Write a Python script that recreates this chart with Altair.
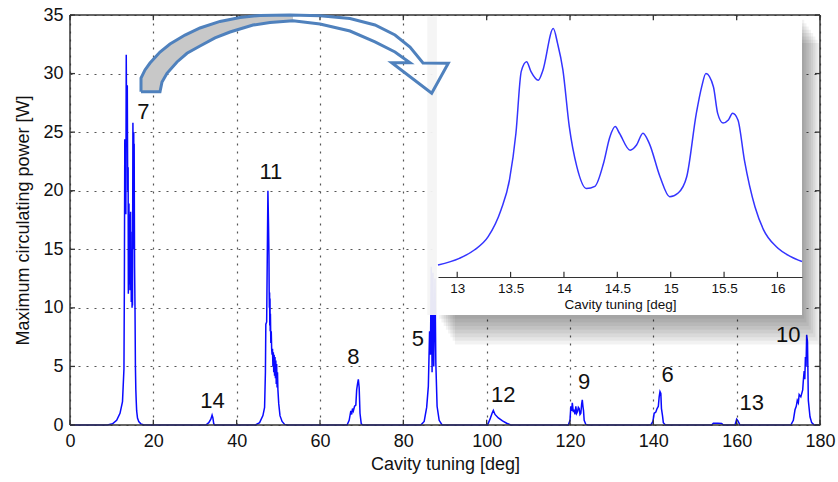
import altair as alt
import pandas as pd

FONT = "Liberation Sans"

# ---------------- data ----------------
x_ticks_main = list(range(0, 181, 20))
y_ticks_main = list(range(0, 36, 5))
inset_ticks = [13, 13.5, 14, 14.5, 15, 15.5, 16]

baseline = [(0, 0), (180, 0)]
peak_7 = [(9.0, 0), (10.2, 0.1), (11.2, 0.4), (12.0, 1.0), (12.6, 2.0), (12.95, 4.8),
          (13.05, 12.0), (13.15, 24.4), (13.3, 24.0), (13.4, 18.0), (13.5, 31.6), (13.6, 25.0),
          (13.75, 29.0), (13.85, 20.0), (13.95, 22.0), (14.0, 11.2), (14.05, 17.0), (14.1, 12.0),
          (14.15, 18.9), (14.2, 13.0), (14.25, 17.5), (14.3, 12.0), (14.35, 18.0), (14.4, 11.5),
          (14.45, 16.0), (14.5, 12.5), (14.55, 18.2), (14.6, 13.0), (14.65, 16.5), (14.7, 10.5),
          (14.75, 15.0), (14.8, 11.0), (14.85, 14.0), (14.9, 10.0), (14.95, 12.0), (15.0, 10.2),
          (15.05, 18.0), (15.1, 25.8), (15.2, 20.0), (15.3, 25.0), (15.35, 15.0), (15.4, 24.0),
          (15.45, 18.0), (15.5, 13.5), (15.6, 10.0), (15.7, 5.0), (15.8, 3.0), (15.9, 2.0),
          (16.0, 1.2), (16.2, 0.6), (16.5, 0.3), (17.0, 0.1), (17.6, 0.02), (18.5, 0)]
peak_14 = [(32.6, 0), (33.3, 0.2), (33.8, 0.5), (34.1, 0.85), (34.3, 0.6), (34.5, 0.1), (34.8, 0)]
peak_11 = [(44.5, 0), (45.5, 0.2), (46.3, 0.8), (46.7, 1.5), (46.9, 4.5), (47.0, 8.6), (47.2, 8.8),
           (47.5, 20.0), (47.65, 17.0), (47.75, 14.5), (47.8, 11.5), (47.85, 10.0), (47.9, 11.3),
           (47.95, 8.5), (48.0, 10.8), (48.05, 8.0), (48.1, 9.5), (48.2, 7.0), (48.3, 8.0),
           (48.4, 6.5), (48.5, 6.0), (48.6, 6.5), (48.7, 5.0), (48.8, 6.2), (48.9, 4.5),
           (49.0, 6.0), (49.1, 4.2), (49.2, 5.8), (49.3, 4.0), (49.4, 5.5), (49.5, 3.5),
           (49.6, 5.2), (49.7, 3.2), (49.8, 4.5), (49.9, 3.0), (50.1, 1.8), (50.4, 0.8),
           (50.9, 0.3), (51.5, 0.05), (52.3, 0)]
peak_8 = [(66.5, 0), (67.0, 0.4), (67.4, 1.2), (67.6, 0.9), (67.8, 1.4), (68.0, 1.2), (68.3, 1.6),
          (68.6, 1.7), (68.8, 3.0), (69.0, 3.5), (69.2, 3.9), (69.4, 3.2), (69.6, 1.0),
          (69.9, 0.1), (70.3, 0)]
peak_5 = [(84.2, 0), (85.0, 0.3), (85.6, 1.5), (86.0, 3.3), (86.3, 8.0), (86.5, 6.0), (86.7, 13.5),
          (86.9, 4.5), (87.1, 13.0), (87.3, 5.0), (87.6, 12.5), (87.8, 5.3), (88.1, 1.6),
          (88.6, 0.4), (89.3, 0)]
peak_12 = [(100.2, 0), (100.8, 0.5), (101.3, 1.0), (101.6, 1.25), (102.0, 0.9), (102.8, 0.6),
           (103.8, 0.35), (104.8, 0.15), (105.8, 0)]
peak_9 = [(119.6, 0), (120.0, 0.4), (120.2, 1.6), (120.4, 1.2), (120.55, 1.9), (120.8, 1.1),
          (120.96, 1.3), (121.2, 0.9), (121.4, 1.6), (121.6, 1.0), (121.8, 1.15), (122.0, 1.5),
          (122.2, 1.4), (122.4, 0.9), (122.6, 1.0), (122.8, 1.8), (122.95, 2.15), (123.1, 1.6),
          (123.25, 1.2), (123.4, 0.4), (123.8, 0.05), (124.3, 0)]
peak_6 = [(139.4, 0), (139.9, 0.3), (140.2, 1.0), (140.6, 1.1), (140.9, 1.4), (141.2, 1.6),
          (141.4, 2.4), (141.6, 2.85), (141.8, 2.7), (141.95, 1.4), (142.2, 0.8), (142.4, 0.2),
          (142.9, 0)]
bump_155 = [(154.0, 0), (154.4, 0.15), (155.5, 0.15), (156.4, 0.12), (156.8, 0)]
peak_13 = [(159.6, 0), (160.0, 0.5), (160.3, 0.35), (160.8, 0)]
peak_10 = [(173.0, 0), (173.6, 0.4), (174.0, 1.3), (174.3, 1.6), (174.55, 2.1), (174.8, 1.9),
           (175.0, 2.6), (175.4, 2.4), (175.85, 3.0), (176.0, 3.8), (176.2, 4.6), (176.35, 3.9),
           (176.5, 5.8), (176.65, 5.0), (176.8, 7.7), (177.0, 7.1), (177.2, 2.1), (177.6, 0.7),
           (178.0, 0.2), (178.6, 0)]

peak_labels = ["7", "14", "11", "8", "5", "12", "9", "6", "13", "10"]
label_x = [17.6, 34.2, 48.2, 68.0, 83.5, 104.0, 123.4, 143.4, 163.6, 172.4]
label_y = [26.75, 2.07, 21.6, 5.83, 7.34, 2.56, 3.7, 4.27, 1.85, 7.68]

# inset (zoom on mode 7)
inset_curve = [(12.82, 1.63), (13.02, 2.53), (13.16, 3.66), (13.29, 5.47), (13.41, 9.09),
               (13.49, 13.2), (13.55, 19.5), (13.6, 27.9), (13.65, 29.2), (13.69, 27.9),
               (13.76, 26.7), (13.8, 27.9), (13.9, 33.7), (13.94, 31.7), (13.99, 28.1),
               (14.05, 20.4), (14.12, 15.0), (14.21, 12.0), (14.29, 12.3), (14.37, 15.4),
               (14.43, 19.0), (14.48, 20.4), (14.52, 19.5), (14.62, 17.2), (14.68, 17.9),
               (14.74, 19.5), (14.8, 18.1), (14.9, 13.6), (14.99, 10.9), (15.07, 11.4),
               (15.15, 13.6), (15.24, 22.2), (15.29, 25.8), (15.33, 27.6), (15.4, 25.8),
               (15.44, 22.2), (15.49, 20.9), (15.54, 21.3), (15.58, 22.2), (15.63, 21.3),
               (15.69, 15.9), (15.79, 9.5), (15.87, 6.4), (15.99, 4.1), (16.12, 2.8), (16.23, 2.1)]
inset_box_x = [12.81, 16.23]
inset_box_y = [-5.16, 35.34]
inset_glow_x = [12.72, 12.81]   # pale halo on the inset's left edge

# decorative arrow (outline polygon and grey filled part), in main-axis units
arrow_outline = [(17.04, 28.45), (17.04, 29.62), (18.0, 30.31), (19.2, 30.90), (21.6, 31.84),
                 (24.0, 32.52), (27.6, 33.29), (31.2, 33.89), (36.0, 34.45), (40.8, 34.79),
                 (45.6, 34.96), (52.8, 35.0), (60.0, 34.93), (67.2, 34.70), (73.2, 34.15),
                 (78.0, 33.29), (81.6, 32.27), (84.72, 30.90), (90.79, 30.88), (86.81, 28.32),
                 (77.21, 30.93), (81.6, 30.93), (78.0, 31.84), (73.2, 32.70), (67.2, 33.63),
                 (60.0, 34.23), (53.52, 34.51), (48.0, 34.36), (43.92, 34.14), (38.4, 33.55),
                 (34.8, 33.04), (31.2, 32.35), (28.08, 31.73), (25.68, 30.99), (23.28, 30.02),
                 (22.08, 29.28), (21.6, 28.45), (17.04, 28.45)]
arrow_fill_x = [17.04, 18.0, 19.2, 20.4, 21.6, 22.08, 23.28, 25.68, 28.08, 31.2, 34.8, 38.4, 43.92, 48.0, 53.52]
arrow_fill_top = [29.62, 30.31, 30.90, 31.4, 31.84, 32.0, 32.3, 32.9, 33.4, 33.89, 34.3, 34.6, 34.9, 34.98, 35.0]
arrow_fill_bot = [28.45, 28.45, 28.45, 28.45, 28.45, 29.28, 30.02, 30.99, 31.73, 32.35, 33.04, 33.55, 34.14, 34.36, 34.51]

# ---------------- frames ----------------
pts = baseline + peak_7 + peak_14 + peak_11 + peak_8 + peak_5 + peak_12 + peak_9 + peak_6 + bump_155 + peak_13 + peak_10
main_df = pd.DataFrame(pts, columns=["x", "y"]).sort_values("x").reset_index(drop=True)
main_df["i"] = range(len(main_df))
labels_df = pd.DataFrame({"t": peak_labels, "x": label_x, "y": label_y})
inset_df = pd.DataFrame(inset_curve, columns=["x", "y"])
outline_df = pd.DataFrame(arrow_outline, columns=["x", "y"])
outline_df["i"] = range(len(outline_df))
fill_df = pd.DataFrame({"x": arrow_fill_x, "y": arrow_fill_top, "y2": arrow_fill_bot})

xt_rows = []
for v in x_ticks_main:
    xt_rows.append({"x": v, "y": 0.0, "y2": 0.45})
    xt_rows.append({"x": v, "y": 34.55, "y2": 35.0})
xt_df = pd.DataFrame(xt_rows)
yt_rows = []
for v in y_ticks_main:
    yt_rows.append({"y": v, "x": 0.0, "x2": 1.2})
    yt_rows.append({"y": v, "x": 178.8, "x2": 180.0})
yt_df = pd.DataFrame(yt_rows)
frame_df = pd.DataFrame({"x": [0, 0, 180, 0], "x2": [180, 180, 180, 0],
                         "y": [0, 35, 0, 0], "y2": [0, 35, 35, 35]})

it_df = pd.DataFrame({"x": inset_ticks, "y": [0.0] * len(inset_ticks), "y2": [0.7] * len(inset_ticks)})

box_df = pd.DataFrame({"x": [inset_box_x[0]], "x2": [inset_box_x[1]], "y": [inset_box_y[0]], "y2": [inset_box_y[1]]})
glow_df = pd.DataFrame({"x": [inset_glow_x[0]], "x2": [inset_glow_x[1]], "y": [inset_box_y[0]], "y2": [inset_box_y[1]]})
shadow_rows = []
for k in range(1, 9):
    shadow_rows.append({"x": inset_box_x[0] + 0.021 * k, "x2": inset_box_x[1] + 0.021 * k,
                        "y": inset_box_y[0] - 0.5 * k, "y2": inset_box_y[1] - 0.45 * k})
shadow_df = pd.DataFrame(shadow_rows)

# ---------------- scales ----------------
XM = alt.Scale(domain=[0, 180], nice=False, zero=False)
YM = alt.Scale(domain=[0, 35], nice=False, zero=False)
XI = alt.Scale(domain=[12.82, 16.23], range=[368, 732], nice=False, zero=False)
YI = alt.Scale(domain=[0, 35], range=[262, 4], nice=False, zero=False)

x_axis = alt.Axis(values=x_ticks_main, title="Cavity tuning [deg]", grid=True, gridDash=[2, 6],
                  gridColor="#555555", gridWidth=1.2, domain=False, ticks=False, labelFlush=False,
                  labelFont=FONT, labelFontSize=18, labelColor="#111111", labelPadding=7,
                  titleFont=FONT, titleFontSize=18, titleFontWeight="normal", titleColor="#111111",
                  titlePadding=5)
y_axis = alt.Axis(values=y_ticks_main, title="Maximum circulating power [W]", grid=True, gridDash=[2, 6],
                  gridColor="#555555", gridWidth=1.2, domain=False, ticks=False,
                  labelFont=FONT, labelFontSize=18, labelColor="#111111", labelPadding=7,
                  titleFont=FONT, titleFontSize=18, titleFontWeight="normal", titleColor="#111111",
                  titlePadding=10)

# ---------------- main layer ----------------
main_line = alt.Chart(main_df).mark_line(color="#0a0aff", strokeWidth=1.5).encode(
    x=alt.X("x:Q", scale=XM, axis=x_axis),
    y=alt.Y("y:Q", scale=YM, axis=y_axis),
    order="i:Q",
)
main_labels = alt.Chart(labels_df).mark_text(font=FONT, fontSize=22, color="#111111",
                                             align="center", baseline="middle").encode(
    x=alt.X("x:Q", scale=XM), y=alt.Y("y:Q", scale=YM), text="t:N")
main_layer = alt.layer(main_line, main_labels)

# ---------------- inset layer ----------------
inset_axis = alt.Axis(values=inset_ticks, orient="bottom", offset=-148, title="Cavity tuning [deg]",
                      grid=False, domain=True, domainColor="#333333", domainWidth=1.2, ticks=False,
                      labelFlush=False, labelExpr="datum.value + ''", zindex=1,
                      labelFont=FONT, labelFontSize=13.5, labelColor="#111111", labelPadding=4,
                      titleFont=FONT, titleFontSize=13.5, titleFontWeight="normal", titleColor="#111111",
                      titlePadding=3)
shadow = alt.Chart(shadow_df).mark_rect(color="#000000", opacity=0.05).encode(
    x=alt.X("x:Q", scale=XI, axis=inset_axis), x2="x2:Q",
    y=alt.Y("y:Q", scale=YI, axis=None), y2="y2:Q")
glow = alt.Chart(glow_df).mark_rect(color="#f4f4f4", opacity=0.95).encode(
    x=alt.X("x:Q", scale=XI), x2="x2:Q", y=alt.Y("y:Q", scale=YI), y2="y2:Q")
box = alt.Chart(box_df).mark_rect(color="#ffffff").encode(
    x=alt.X("x:Q", scale=XI), x2="x2:Q", y=alt.Y("y:Q", scale=YI), y2="y2:Q")
inset_line = alt.Chart(inset_df).mark_line(color="#3434ff", strokeWidth=1.5, interpolate="monotone").encode(
    x=alt.X("x:Q", scale=XI), y=alt.Y("y:Q", scale=YI))
inset_tk = alt.Chart(it_df).mark_rule(color="#333333", strokeWidth=1.2).encode(
    x=alt.X("x:Q", scale=XI), y=alt.Y("y:Q", scale=YI), y2="y2:Q")
inset_layer = alt.layer(shadow, glow, box, inset_line, inset_tk)

# ---------------- top layer: frame, inner ticks, arrow ----------------
XA = alt.Scale(domain=[0, 180], nice=False, zero=False)
YA = alt.Scale(domain=[0, 35], nice=False, zero=False)
frame = alt.Chart(frame_df).mark_rule(color="#333333", strokeWidth=1.5).encode(
    x=alt.X("x:Q", scale=XA, axis=None), x2="x2:Q",
    y=alt.Y("y:Q", scale=YA, axis=None), y2="y2:Q")
xticks = alt.Chart(xt_df).mark_rule(color="#333333", strokeWidth=1.3).encode(
    x=alt.X("x:Q", scale=XA), y=alt.Y("y:Q", scale=YA), y2="y2:Q")
yticks = alt.Chart(yt_df).mark_rule(color="#333333", strokeWidth=1.3).encode(
    y=alt.Y("y:Q", scale=YA), x=alt.X("x:Q", scale=XA), x2="x2:Q")
arrow_fill = alt.Chart(fill_df).mark_area(color="#c8c8c8", interpolate="monotone").encode(
    x=alt.X("x:Q", scale=XA), y=alt.Y("y:Q", scale=YA), y2="y2:Q")
arrow_line = alt.Chart(outline_df).mark_line(color="#4f81bd", strokeWidth=3, strokeJoin="miter").encode(
    x=alt.X("x:Q", scale=XA), y=alt.Y("y:Q", scale=YA), order="i:Q")
top_layer = alt.layer(frame, xticks, yticks, arrow_fill, arrow_line)

chart = alt.layer(main_layer, inset_layer, top_layer).resolve_scale(
    x="independent", y="independent"
).properties(
    width=750, height=410,
    padding={"left": 70, "top": 15, "right": 18, "bottom": 57},
    autosize=alt.AutoSizeParams(type="none"),
    background="white",
).configure_view(stroke=None)

chart.save("out.html", embed_options={"renderer": "svg", "actions": False})
